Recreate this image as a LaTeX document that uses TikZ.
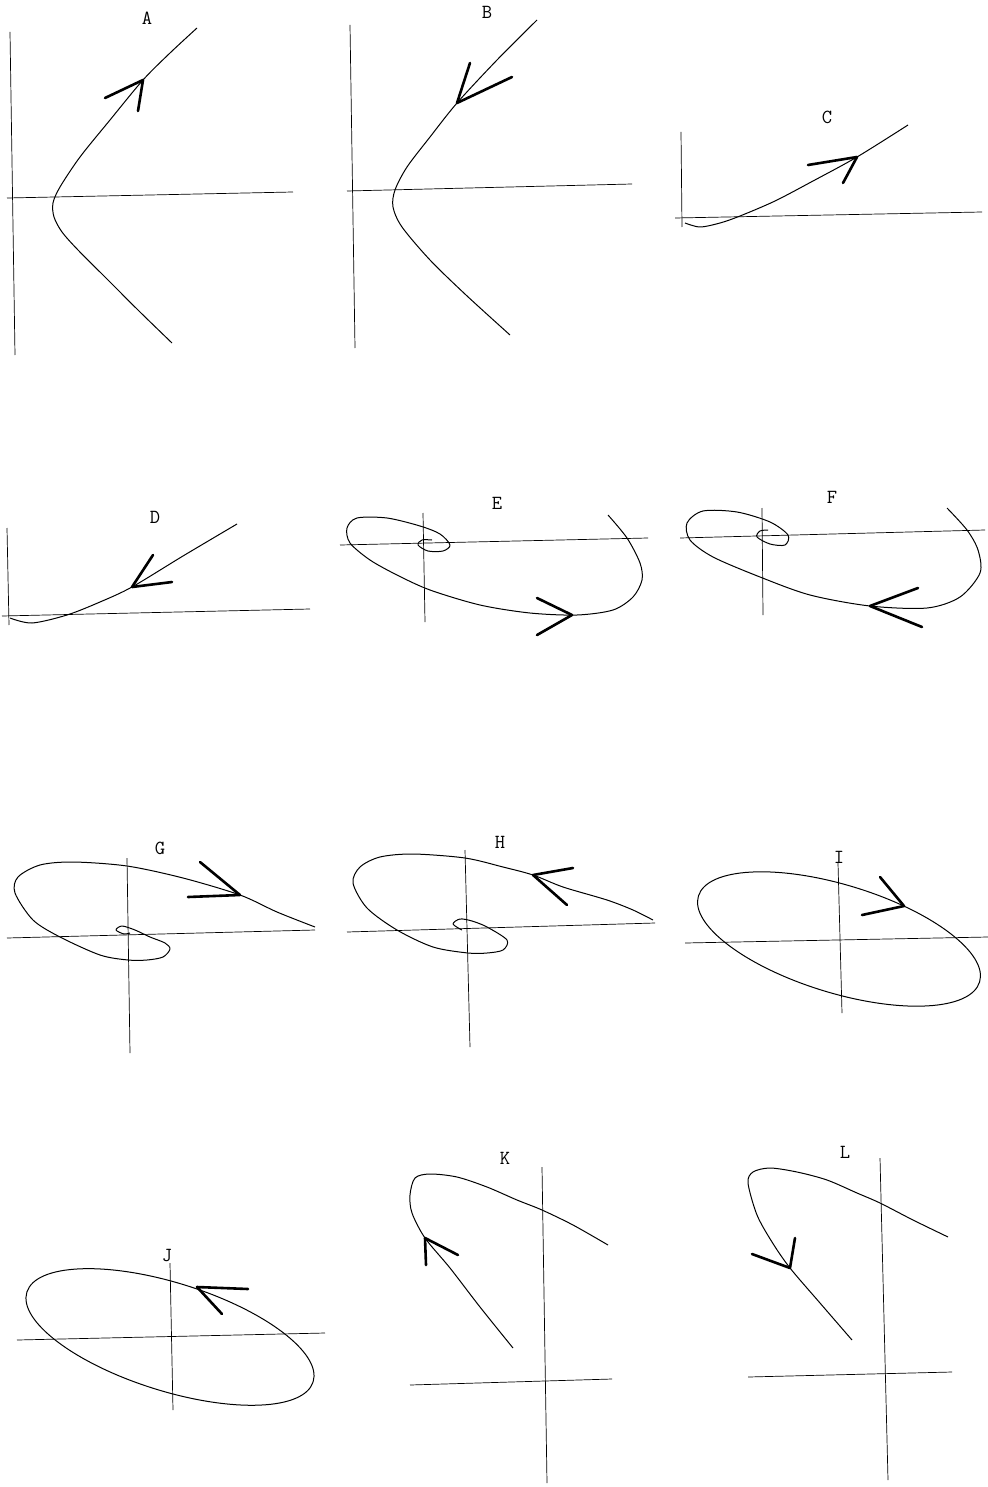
\documentclass[tikz,border=0pt]{standalone}
\usepackage{tikz}
\usetikzlibrary{calc}
\tikzstyle{axis}=[line width=0.7pt]
\tikzstyle{orbit}=[line width=1pt, line join=round]
\tikzstyle{barb}=[line width=2.6pt, line cap=round, line join=round]
\begin{document}
\begin{tikzpicture}[x=1pt, y=-1pt,
  lbl/.style={font=\ttfamily\fontsize{20}{20}\selectfont, inner sep=0pt}]
\useasboundingbox (0,0) rectangle (987,1487);

\node[lbl] (labA) at (147,18) {A};
\draw[axis] (10,32) -- (15,355);
\draw[axis] (7,198) -- (293,192);
\draw[orbit] plot[smooth] coordinates {(197,28) (170,53) (143,80) (110,120) (80,157) (60,187) (53,203) (54,217) (62,232) (78,250) (108,280) (140,312) (172,343)};
\draw[barb] (105,98) -- (143,80) -- (138,111);

\node[lbl] (labB) at (487,12) {B};
\draw[axis] (350,25) -- (355,348);
\draw[axis] (347,191) -- (632,184);
\draw[orbit] plot[smooth] coordinates {(537,20) (497,60) (457,103) (430,137) (407,167) (395,190) (393,207) (402,227) (430,260) (466,295) (510,335)};
\draw[barb] (470,63) -- (457,103) -- (512,77);

\node[lbl] (labC) at (827,117) {C};
\draw[axis] (681,132) -- (682,227);
\draw[axis] (675,218) -- (982,212);
\draw[orbit] plot[smooth] coordinates {(685,223) (700,227) (720,223) (740,216) (775,201) (813,181) (857,157) (908,125)};
\draw[barb] (808,165) -- (857,157) -- (843,183);

\node[lbl] (labD) at (155,517) {D};
\draw[axis] (7,528) -- (9,625);
\draw[axis] (2,616) -- (310,609);
\draw[orbit] plot[smooth] coordinates {(10,618) (32,623) (67,615) (100,602) (132,587) (183,556) (237,524)};
\draw[barb] (153,555) -- (132,587) -- (172,582);

\node[lbl] (labE) at (497,503) {E};
\draw[axis] (423,513) -- (425,622);
\draw[axis] (340,545) -- (648,538);
\draw[orbit] plot[smooth] coordinates {(608,515) (627,538) (640,563) (642,580) (633,597) (613,610) (577,615) (530,613) (480,605) (430,590) (397,575) (370,560) (350,543) (347,528) (357,518) (387,518) (420,526) (440,534) (450,545) (443,551) (428,551) (418,545) (422,540) (432,540)};
\draw[barb] (537,598) -- (572,615) -- (537,635);

\node[lbl] (labF) at (832,497) {F};
\draw[axis] (762,508) -- (763,615);
\draw[axis] (680,538) -- (985,530);
\draw[orbit] plot[smooth] coordinates {(947,508) (967,530) (978,550) (980,573) (960,597) (927,608) (870,606) (810,595) (760,577) (713,557) (690,540) (687,523) (703,511) (737,512) (770,522) (788,535) (785,545) (770,544) (757,537) (760,531) (768,530)};
\draw[barb] (918,588) -- (870,606) -- (922,627);

\node[lbl] (labG) at (160,848) {G};
\draw[axis] (127,858) -- (130,1053);
\draw[axis] (7,938) -- (315,930);
\draw[orbit] plot[smooth] coordinates {(315,927) (277,912) (240,895) (183,878) (127,866) (73,862) (40,865) (18,877) (15,893) (33,920) (60,937) (100,955) (128,960) (147,960) (163,957) (170,949) (165,943) (150,937) (135,930) (122,926) (116,930) (124,934) (130,933)};
\draw[barb] (200,862) -- (240,895) -- (188,897);

\node[lbl] (labH) at (500,842) {H};
\draw[axis] (465,850) -- (470,1047);
\draw[axis] (347,932) -- (655,923);
\draw[orbit] plot[smooth] coordinates {(653,920) (633,910) (607,900) (563,887) (533,875) (503,867) (465,858) (413,854) (380,857) (360,867) (353,883) (367,908) (397,930) (433,947) (468,953) (487,953) (503,950) (507,940) (487,927) (472,921) (460,919) (453,924) (462,930)};
\draw[barb] (573,868) -- (533,875) -- (567,905);

\node[lbl] (labI) at (839,857) {I};
\draw[axis] (838,863) -- (842,1013);
\draw[axis] (685,943) -- (988,937);
\coordinate (cenI) at (839,939);
\draw[orbit, rotate around={-17:(cenI)}] (cenI) ellipse (147 and 54);
\draw[barb] (880,877) -- (904,906) -- (862,915);

\node[lbl] (labJ) at (167,1255) {J};
\draw[axis] (170,1263) -- (173,1410);
\draw[axis] (17,1340) -- (325,1333);
\coordinate (cenJ) at (170,1337);
\draw[orbit, rotate around={-17.4:(cenJ)}] (cenJ) ellipse (150 and 54);
\draw[barb] (248,1289) -- (197,1287) -- (222,1314);

\node[lbl] (labK) at (505,1158) {K};
\draw[axis] (542,1167) -- (547,1483);
\draw[axis] (410,1385) -- (612,1379);
\draw[orbit] plot[smooth] coordinates {(513,1348) (480,1307) (450,1268) (425,1238) (412,1213) (410,1195) (415,1178) (430,1174) (457,1177) (487,1187) (517,1200) (542,1210) (573,1225) (608,1245)};
\draw[barb] (458,1255) -- (425,1238) -- (426,1265);

\node[lbl] (labL) at (845,1152) {L};
\draw[axis] (880,1158) -- (888,1480);
\draw[axis] (748,1377) -- (952,1372);
\draw[orbit] plot[smooth] coordinates {(852,1340) (820,1303) (790,1268) (772,1242) (757,1215) (748,1183) (753,1172) (770,1168) (797,1172) (827,1180) (857,1193) (880,1203) (913,1220) (948,1237)};
\draw[barb] (752,1254) -- (790,1268) -- (795,1238);
\end{tikzpicture}
\end{document}
